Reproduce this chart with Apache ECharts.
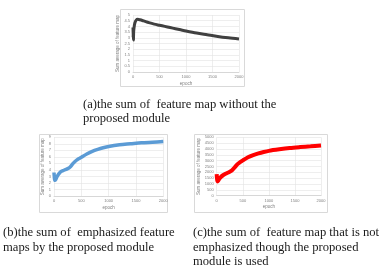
<!DOCTYPE html>
<html><head><meta charset="utf-8">
<script src="https://cdn.jsdelivr.net/npm/echarts@6/dist/echarts.min.js"></script>
<style>html,body{margin:0;padding:0;background:#fff}#c{width:382px;height:273px}</style>
</head><body><div id="c"></div>
<script>
// (a) without proposed module
const epochsA = [0, 3, 6, 9, 12, 20, 35, 60, 90, 130, 200, 300, 400, 500, 600, 700, 800, 900, 1000, 1200, 1400, 1600, 1800, 2000];
const valuesA = [3.9, 3.0, 3.8, 2.8, 3.5, 3.9, 4.3, 4.55, 4.62, 4.58, 4.48, 4.33, 4.2, 4.1, 4.0, 3.9, 3.8, 3.7, 3.6, 3.42, 3.27, 3.12, 3.0, 2.9];
// (b) emphasized
const epochsB = [0, 5, 15, 30, 50, 80, 120, 180, 250, 300, 350, 400, 450, 500, 600, 700, 800, 900, 1000, 1200, 1400, 1600, 1800, 2000];
const valuesB = [3.6, 3.0, 2.4, 2.5, 2.9, 3.3, 3.7, 3.95, 4.2, 4.5, 5.0, 5.4, 5.7, 5.95, 6.45, 6.85, 7.15, 7.4, 7.6, 7.85, 8.0, 8.15, 8.25, 8.35];
// (c) not emphasized
const epochsC = [0, 5, 15, 30, 50, 80, 120, 180, 250, 300, 350, 400, 450, 500, 600, 700, 800, 900, 1000, 1200, 1400, 1600, 1800, 2000];
const valuesC = [1850, 1500, 1220, 1300, 1450, 1600, 1750, 1900, 2050, 2200, 2450, 2700, 2880, 3020, 3300, 3480, 3620, 3740, 3840, 3970, 4080, 4160, 4230, 4300];

const yTitle = "Sum average of feature map";
const xTitle = "epoch";
const captionA = ["(a)the sum of  feature map without the", "proposed module"];
const captionB = ["(b)the sum of  emphasized feature", "maps by the proposed module"];
const captionC = ["(c)the sum of  feature map that is not", "emphasized though the proposed", "module is used"];

const pair = (xs, ys) => xs.map((x, i) => [x, ys[i]]);
const grids = [
  {left: 133, top: 15, width: 106, height: 57},
  {left: 54, top: 137.3, width: 109.3, height: 58.7},
  {left: 216.7, top: 137.3, width: 104.3, height: 58.4}
];
const yCfg = [{max: 5, interval: 0.5}, {max: 9, interval: 1}, {max: 5000, interval: 500}];
const colors = ['#404040', '#5b9bd5', '#ff0000'];
const widths = [3, 3.5, 4];
const datas = [pair(epochsA, valuesA), pair(epochsB, valuesB), pair(epochsC, valuesC)];

const plain = v => String(v);
const labelStyle = {fontSize: 4, color: '#808080', fontFamily: 'Liberation Sans', formatter: plain};
const xAxis = grids.map((g, i) => ({
  type: 'value', gridIndex: i, min: 0, max: 2000, interval: 500,
  name: xTitle, nameLocation: 'middle', nameGap: 9,
  nameTextStyle: {fontSize: 4.5, color: '#808080'},
  axisLine: {show: true, lineStyle: {color: '#c8c8c8', width: 0.6}},
  axisTick: {show: false},
  axisLabel: Object.assign({margin: 3}, labelStyle),
  splitLine: {show: true, lineStyle: {color: '#e2e2e2', width: 0.6}}
}));
const yAxis = grids.map((g, i) => ({
  type: 'value', gridIndex: i, min: 0, max: yCfg[i].max, interval: yCfg[i].interval,
  name: yTitle, nameLocation: 'middle', nameGap: i === 2 ? 14 : 9, nameRotate: 90,
  nameTextStyle: {fontSize: 4.5, color: '#808080'},
  axisLine: {show: false}, axisTick: {show: false},
  axisLabel: Object.assign({margin: 3}, labelStyle),
  splitLine: {show: true, lineStyle: {color: '#e2e2e2', width: 0.6}}
}));
const series = datas.map((d, i) => ({
  type: 'line', xAxisIndex: i, yAxisIndex: i, data: d, showSymbol: false, smooth: 0.3,
  lineStyle: {color: colors[i], width: widths[i]}, animation: false
}));

const frames = [[120, 9, 124, 77], [39, 134, 128, 78], [194, 134, 133, 78]];
const graphic = frames.map(f => ({
  type: 'rect', shape: {x: f[0] + 0.5, y: f[1] + 0.5, width: f[2], height: f[3]},
  style: {fill: 'none', stroke: '#d9d9d9', lineWidth: 1}, z: -1
}));
const capFont = '12.6px "Liberation Serif"';
function addCaption(lines, x, y) {
  lines.forEach((t, k) => graphic.push({
    type: 'text', x: x, y: y + k * 14.5,
    style: {text: t, font: capFont, fill: '#1a1a1a', textVerticalAlign: 'middle'}
  }));
}
addCaption(captionA, 83, 104.5);
addCaption(captionB, 3, 233);
addCaption(captionC, 193, 233);

const chart = echarts.init(document.getElementById('c'), null, {renderer: 'canvas'});
chart.setOption({
  animation: false,
  grid: grids.map(g => Object.assign({containLabel: false}, g)),
  xAxis: xAxis, yAxis: yAxis, series: series, graphic: graphic
});
</script></body></html>
